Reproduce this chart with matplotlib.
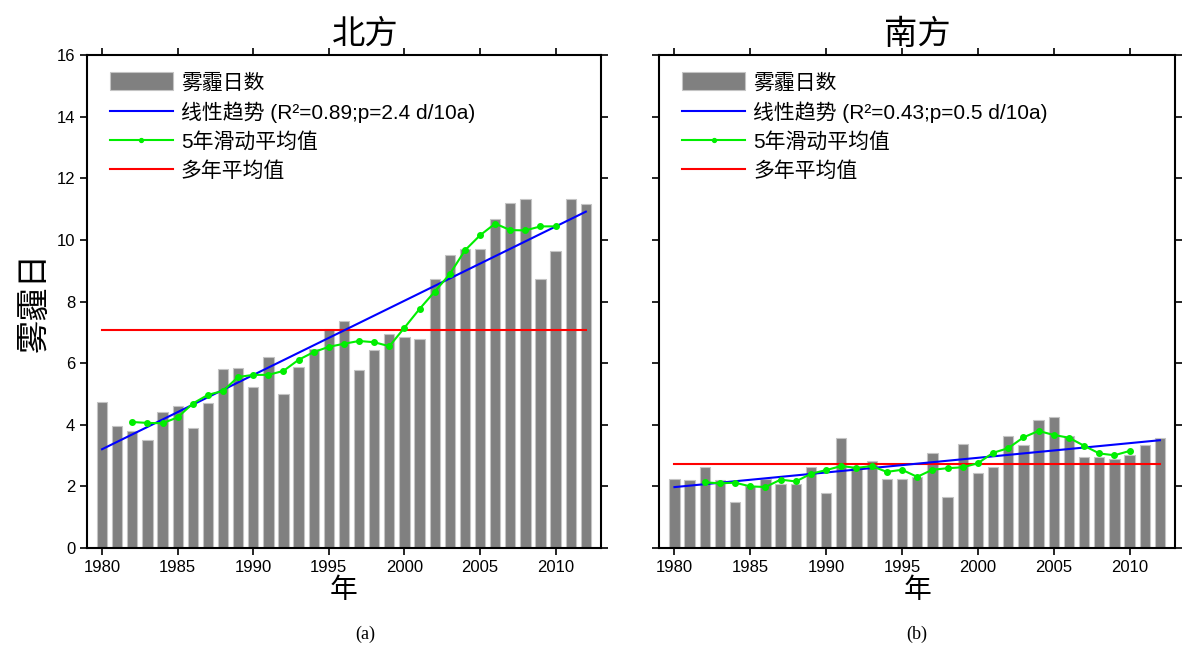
import numpy as np
import matplotlib
matplotlib.use('Agg')
import matplotlib.pyplot as plt

plt.rcParams['font.family'] = ['Liberation Sans', 'Noto Sans CJK SC']

# Daten
years = list(range(1980, 2013))
north = [4.73, 3.97, 3.80, 3.52, 4.43, 4.61, 3.90, 4.71, 5.80, 5.84,
         5.22, 6.19, 4.99, 5.88, 6.47, 7.11, 7.38, 5.77, 6.43, 6.94,
         6.85, 6.79, 8.72, 9.52, 9.71, 9.70, 10.67, 11.20, 11.33, 8.73,
         9.65, 11.33, 11.16]
south = [2.23, 2.20, 2.64, 2.21, 1.50, 2.00, 2.25, 2.09, 2.09, 2.63,
         1.77, 3.56, 2.62, 2.83, 2.25, 2.24, 2.31, 3.07, 1.67, 3.38,
         2.45, 2.63, 3.64, 3.33, 4.17, 4.24, 3.65, 2.94, 2.94, 2.89,
         3.01, 3.33, 3.58]
ma_years = list(range(1982, 2011))
north_ma = [4.09, 4.06, 4.05, 4.24, 4.69, 4.97, 5.10, 5.55, 5.62, 5.62,
            5.75, 6.11, 6.36, 6.53, 6.63, 6.72, 6.68, 6.55, 7.15, 7.76,
            8.32, 8.89, 9.66, 10.15, 10.53, 10.32, 10.31, 10.44, 10.44]
south_ma = [2.13, 2.10, 2.12, 2.00, 1.98, 2.22, 2.16, 2.41, 2.53, 2.66,
            2.60, 2.66, 2.47, 2.54, 2.31, 2.54, 2.59, 2.62, 2.75, 3.09,
            3.24, 3.59, 3.80, 3.67, 3.58, 3.32, 3.07, 3.01, 3.15]
titles = ['北方', '南方']
trend_labels = ['线性趋势 (R²=0.89;p=2.4 d/10a)', '线性趋势 (R²=0.43;p=0.5 d/10a)']
panel_labels = ['(a)', '(b)']
title_x = [0.541, 0.5]

fig = plt.figure(figsize=(11.83, 6.46), dpi=100)
ax1 = fig.add_axes([0.0735, 0.1517, 0.4345, 0.763])
ax2 = fig.add_axes([0.5573, 0.1517, 0.436, 0.763])

for i, (ax, data, ma) in enumerate([(ax1, north, north_ma), (ax2, south, south_ma)]):
    x = np.array(years)
    y = np.array(data)
    b = ax.bar(x, y, width=0.68, color='#808080', edgecolor='#c4c4c4', linewidth=0.8,
               label='雾霾日数', zorder=1)
    k, d = np.polyfit(x, y, 1)
    l1, = ax.plot(x, k * x + d, color='blue', linewidth=1.5, label=trend_labels[i], zorder=3)
    l2, = ax.plot(ma_years, ma, color='#00ee00', linewidth=1.5, marker='o', markersize=4,
                  label='5年滑动平均值', zorder=4)
    m = y.mean()
    l3, = ax.plot([x[0], x[-1]], [m, m], color='red', linewidth=1.5, label='多年平均值', zorder=2)

    ax.set_xlim(1979, 2013)
    ax.set_ylim(0, 16)
    ax.set_xticks([1980, 1985, 1990, 1995, 2000, 2005, 2010])
    ax.set_yticks(range(0, 17, 2))
    ax.tick_params(direction='out', length=5, width=1.2, labelsize=12,
                   top=True, right=True)
    for s in ax.spines.values():
        s.set_linewidth(1.5)
    ax.set_title(titles[i], fontsize=24, pad=8, x=title_x[i])
    ax.set_xlabel('年', fontsize=20, labelpad=2)
    ax.text(title_x[i], -0.175, panel_labels[i], transform=ax.transAxes, ha='center', va='center',
            fontsize=13, family='Liberation Serif')
    ax.legend([b, l1, l2, l3], [b.get_label(), l1.get_label(), l2.get_label(), l3.get_label()],
              loc='upper left', bbox_to_anchor=(0.045, 0.965), frameon=False, fontsize=15,
              handlelength=3.0, handletextpad=0.4, handleheight=0.95, labelspacing=0.42,
              borderpad=0, borderaxespad=0, markerscale=0.7)

ax1.set_ylabel('雾霾日', fontsize=24, labelpad=4)
ax2.tick_params(labelleft=False)

fig.savefig('out.png', dpi=100)
